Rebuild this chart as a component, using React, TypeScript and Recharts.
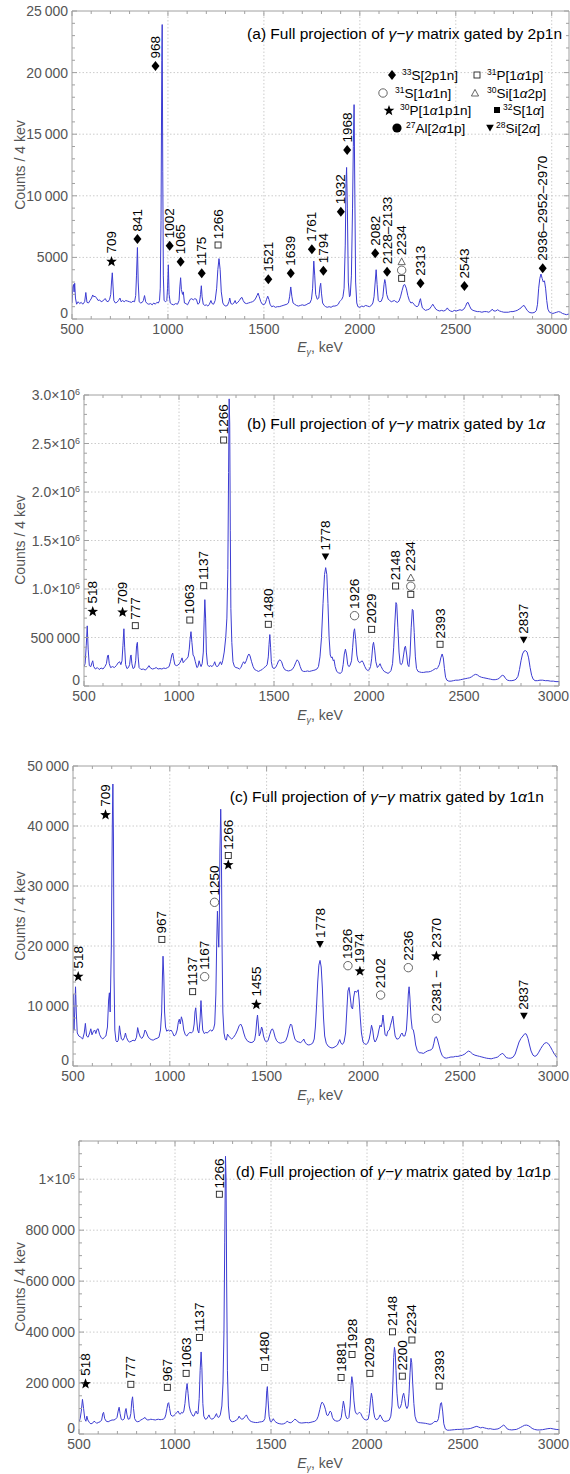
import React from 'react';
import { ComposedChart, Line, Scatter, XAxis, YAxis, ReferenceLine } from 'recharts';

const FONT = '"Liberation Sans", Arial, Helvetica, sans-serif';
const BLUE = '#3c3cd2';
const FRAME = '#a0a0a0';
const GRID = '#cccccc';
const TICK_TXT = '#555555';
const FS = 13.5; // peak label font size

// ---------- data ----------
const xMajor = [500, 1000, 1500, 2000, 2500, 3000];

const titles = [
  '(a) Full projection of γ−γ matrix gated by 2p1n',
  '(b) Full projection of γ−γ matrix gated by 1α',
  '(c) Full projection of γ−γ matrix gated by 1α1n',
  '(d) Full projection of γ−γ matrix gated by 1α1p',
];
const xTitle = ['E', 'γ', ', keV'];
const yTitle = 'Counts / 4 kev';

// legend of panel (a): symbol, mass number, rest of the label
const legendSym = ['◆', '□', '○', '△', '★', '■', '●', '▼'];
const legendIso = ['33', '31', '31', '30', '30', '32', '27', '28'];
const legendName = ['S[2p1n]', 'P[1α1p]', 'S[1α1n]', 'Si[1α2p]', 'P[1α1p1n]', 'S[1α]', 'Al[2α1p]', 'Si[2α]'];

const yMajorA = [0, 5000, 10000, 15000, 20000, 25000];
const yLabelsA = ['0', '5000', '10\u2009000', '15\u2009000', '20\u2009000', '25\u2009000'];
const yMajorB = [0, 500000, 1000000, 1500000, 2000000, 2500000, 3000000];
const yLabelsB = ['0', '500\u2009000', '1.0×10^6', '1.5×10^6', '2.0×10^6', '2.5×10^6', '3.0×10^6'];
const yMajorC = [0, 10000, 20000, 30000, 40000, 50000];
const yLabelsC = ['0', '10\u2009000', '20\u2009000', '30\u2009000', '40\u2009000', '50\u2009000'];
const yMajorD = [0, 200000, 400000, 600000, 800000, 1000000];
const yLabelsD = ['0', '200\u2009000', '400\u2009000', '600\u2009000', '800\u2009000', '1×10^6'];

// spectra: [E (keV), counts / 4 keV]
const spec2p1n = [
  [500,1300],[504,2600],[508,2800],[511,2200],[514,2900],[518,1700],[524,1200],[532,1400],[540,1250],[548,1350],[556,1200],[566,1400],[572,2150],[578,1350],[586,1300],[594,1500],[602,1700],[608,1950],[614,1800],[620,1850],[628,1700],[636,1500],[644,1550],[652,1400],[660,1450],[668,1600],[674,1650],[680,1450],[688,1400],[696,1600],[702,2000],[706,3000],[710,3750],[714,2600],[718,1500],[726,1300],[734,1350],[742,1500],[750,1700],[756,1400],[764,1500],[772,1400],[780,1500],[790,1450],[800,1400],[810,1350],[818,1450],[826,1400],[832,1900],[836,3500],[841,5800],[845,3000],[850,1400],[858,1300],[866,1350],[872,1500],[878,1900],[884,1400],[892,1250],[900,1200],[910,1250],[918,1150],[926,1300],[934,1200],[942,1350],[950,1300],[956,1500],[960,2500],[964,8000],[968,21000],[970,23900],[973,12000],[976,3500],[980,1500],[988,1400],[994,1500],[998,2500],[1002,4400],[1006,2000],[1012,1300],[1020,1200],[1030,1150],[1040,1250],[1050,1200],[1058,1500],[1062,2600],[1066,3350],[1070,2400],[1076,2000],[1080,2200],[1086,1300],[1094,1250],[1102,1150],[1110,1400],[1116,1600],[1124,1650],[1132,1550],[1140,1650],[1148,1600],[1156,1200],[1164,1300],[1170,2000],[1174,2700],[1178,1800],[1184,1200],[1192,1100],[1200,1150],[1208,1050],[1216,1200],[1224,1500],[1230,1250],[1238,1200],[1246,1500],[1254,2500],[1260,4000],[1266,4900],[1272,4000],[1278,2200],[1286,1300],[1294,1100],[1302,1050],[1310,1100],[1318,1400],[1322,1700],[1328,1250],[1336,1200],[1344,1300],[1350,1500],[1356,1250],[1364,1350],[1372,1500],[1380,1700],[1386,1750],[1392,1500],[1400,1300],[1410,1250],[1420,1300],[1430,1350],[1440,1400],[1450,1500],[1458,1700],[1464,1900],[1470,2100],[1476,1800],[1484,1400],[1492,1200],[1500,1150],[1508,1300],[1514,1600],[1520,1850],[1526,1600],[1532,1200],[1540,1000],[1550,1050],[1560,950],[1570,1000],[1580,1000],[1590,1050],[1600,1100],[1610,1150],[1620,1200],[1628,1300],[1634,1800],[1640,2600],[1646,1800],[1652,1300],[1660,1200],[1670,1100],[1680,1050],[1690,1100],[1700,1150],[1710,1100],[1720,1150],[1730,1250],[1740,1300],[1748,1600],[1754,2500],[1760,4700],[1765,3500],[1770,2000],[1778,1600],[1786,1700],[1792,2600],[1796,2900],[1800,2100],[1806,1300],[1814,1100],[1822,1000],[1830,950],[1840,1000],[1850,950],[1860,1050],[1870,1050],[1880,1100],[1888,1200],[1894,1400],[1900,1500],[1906,1600],[1912,1800],[1918,2500],[1924,6000],[1928,11000],[1931,12300],[1935,9000],[1940,3000],[1946,1800],[1950,1900],[1956,3500],[1962,9000],[1966,14000],[1970,17400],[1974,10000],[1978,3000],[1984,1300],[1990,1000],[2000,950],[2010,1050],[2020,1000],[2030,1100],[2040,1050],[2050,1000],[2060,1100],[2068,1300],[2074,1800],[2080,3000],[2085,4000],[2090,2800],[2096,1500],[2104,1400],[2112,1450],[2120,1800],[2126,2800],[2130,3200],[2134,2900],[2140,2000],[2148,1600],[2156,1500],[2164,1400],[2172,1450],[2180,1500],[2188,1400],[2196,1350],[2204,1450],[2212,1800],[2220,2300],[2228,2750],[2234,2800],[2242,2500],[2250,1900],[2258,1500],[2266,1300],[2274,1350],[2282,1200],[2290,1050],[2298,1000],[2306,1100],[2312,1500],[2316,1650],[2320,1300],[2326,900],[2334,800],[2342,700],[2352,750],[2362,800],[2372,1000],[2380,1200],[2388,1000],[2396,800],[2406,700],[2416,650],[2426,700],[2436,650],[2446,700],[2456,900],[2462,750],[2472,650],[2482,600],[2492,700],[2502,650],[2512,700],[2522,750],[2532,700],[2542,800],[2550,1000],[2558,1300],[2564,1350],[2572,1050],[2580,800],[2590,700],[2600,650],[2612,600],[2624,600],[2636,550],[2648,600],[2660,600],[2672,550],[2682,650],[2690,800],[2698,650],[2708,650],[2718,750],[2728,650],[2738,600],[2750,550],[2762,550],[2774,550],[2786,600],[2798,600],[2810,650],[2820,700],[2830,800],[2840,900],[2848,1050],[2856,1100],[2864,900],[2872,700],[2882,550],[2892,500],[2902,500],[2912,550],[2920,700],[2926,1200],[2932,2500],[2938,3300],[2944,3650],[2950,3300],[2956,3000],[2962,3100],[2968,2500],[2974,1500],[2980,800],[2988,550],[2996,500],[3006,450],[3016,500],[3026,550],[3036,600],[3046,550],[3056,450],[3066,400],[3076,350],[3088,400],
];

const spec1a = [
  [500,200000],[506,230000],[512,420000],[517,620000],[522,380000],[528,210000],[536,200000],[542,240000],[546,260000],[551,200000],[560,175000],[570,190000],[580,170000],[590,185000],[600,175000],[610,200000],[618,230000],[624,310000],[628,320000],[633,230000],[640,190000],[650,200000],[660,190000],[670,210000],[680,240000],[688,250000],[694,220000],[700,260000],[705,420000],[710,590000],[714,400000],[719,220000],[726,180000],[734,190000],[740,220000],[745,310000],[748,320000],[752,230000],[758,180000],[766,190000],[772,260000],[777,420000],[781,450000],[785,300000],[790,190000],[800,170000],[812,175000],[822,165000],[832,180000],[842,210000],[850,185000],[860,175000],[870,180000],[880,190000],[890,175000],[900,180000],[910,175000],[920,185000],[930,180000],[940,190000],[948,200000],[955,250000],[962,320000],[967,340000],[972,280000],[978,220000],[986,210000],[994,215000],[1002,230000],[1010,260000],[1016,290000],[1022,240000],[1030,260000],[1040,280000],[1048,300000],[1054,380000],[1058,480000],[1063,560000],[1068,450000],[1074,320000],[1080,300000],[1086,250000],[1094,190000],[1100,200000],[1106,260000],[1110,230000],[1116,200000],[1122,230000],[1128,350000],[1132,650000],[1136,890000],[1140,700000],[1144,350000],[1150,220000],[1158,200000],[1166,210000],[1174,200000],[1182,220000],[1188,250000],[1194,210000],[1200,200000],[1208,210000],[1214,240000],[1218,250000],[1224,220000],[1230,260000],[1238,350000],[1246,500000],[1252,700000],[1257,1200000],[1261,2200000],[1264,2960000],[1267,2700000],[1270,1600000],[1273,800000],[1278,450000],[1284,250000],[1292,200000],[1300,190000],[1310,185000],[1318,175000],[1326,190000],[1334,230000],[1340,250000],[1346,230000],[1354,260000],[1362,310000],[1368,330000],[1374,310000],[1382,250000],[1390,200000],[1398,170000],[1408,160000],[1418,150000],[1428,160000],[1438,170000],[1448,190000],[1456,200000],[1464,220000],[1470,300000],[1474,430000],[1478,530000],[1482,400000],[1486,250000],[1492,190000],[1500,180000],[1508,190000],[1516,220000],[1524,260000],[1532,270000],[1540,250000],[1548,200000],[1556,170000],[1566,160000],[1576,155000],[1586,160000],[1596,170000],[1606,200000],[1614,240000],[1622,270000],[1630,250000],[1638,200000],[1646,160000],[1656,150000],[1666,150000],[1676,155000],[1686,150000],[1696,155000],[1706,160000],[1716,165000],[1726,175000],[1734,200000],[1742,300000],[1750,500000],[1758,850000],[1766,1150000],[1772,1220000],[1778,1150000],[1784,850000],[1790,500000],[1796,320000],[1802,290000],[1806,300000],[1812,260000],[1816,270000],[1822,200000],[1830,150000],[1840,135000],[1850,130000],[1858,150000],[1864,220000],[1870,330000],[1876,380000],[1882,320000],[1888,220000],[1894,200000],[1900,210000],[1908,260000],[1914,400000],[1920,560000],[1924,590000],[1930,480000],[1936,320000],[1942,260000],[1950,240000],[1958,250000],[1964,260000],[1970,240000],[1978,200000],[1986,170000],[1994,160000],[2002,170000],[2008,200000],[2014,280000],[2020,420000],[2024,450000],[2030,370000],[2036,250000],[2044,190000],[2052,210000],[2058,230000],[2064,200000],[2072,170000],[2080,150000],[2090,140000],[2100,130000],[2108,140000],[2116,160000],[2124,230000],[2130,400000],[2136,650000],[2142,860000],[2146,840000],[2152,600000],[2158,350000],[2164,230000],[2170,220000],[2176,240000],[2182,320000],[2188,400000],[2192,410000],[2198,330000],[2204,220000],[2210,200000],[2216,320000],[2222,600000],[2228,790000],[2232,780000],[2238,550000],[2244,300000],[2250,180000],[2258,150000],[2266,145000],[2276,140000],[2288,140000],[2300,145000],[2312,145000],[2324,150000],[2334,160000],[2342,170000],[2350,180000],[2356,175000],[2362,190000],[2370,220000],[2378,290000],[2385,330000],[2391,290000],[2397,180000],[2403,90000],[2410,60000],[2420,50000],[2432,50000],[2444,55000],[2456,60000],[2470,60000],[2482,65000],[2494,70000],[2506,75000],[2518,80000],[2530,85000],[2540,95000],[2550,110000],[2560,120000],[2570,115000],[2580,100000],[2592,90000],[2604,85000],[2616,80000],[2628,75000],[2640,70000],[2652,65000],[2664,65000],[2676,70000],[2686,80000],[2694,100000],[2702,110000],[2710,105000],[2718,80000],[2728,60000],[2740,55000],[2752,55000],[2764,60000],[2774,70000],[2784,100000],[2792,170000],[2800,260000],[2808,330000],[2816,360000],[2824,365000],[2832,350000],[2840,290000],[2848,190000],[2856,110000],[2864,70000],[2874,55000],[2886,55000],[2900,60000],[2914,60000],[2928,55000],[2942,55000],[2956,50000],[2970,50000],[2984,45000],[3000,45000],
];

const spec1a1n = [
  [500,5500],[502,12000],[505,6000],[509,9000],[513,13200],[517,9000],[522,5500],[530,5000],[540,4800],[550,4500],[558,5500],[564,7100],[570,5000],[578,4800],[586,5500],[592,6200],[598,5200],[606,5800],[612,6000],[618,5400],[624,6100],[630,6200],[638,5200],[646,4700],[654,4500],[662,4800],[670,5000],[678,6500],[684,11000],[688,12200],[692,9000],[698,20000],[703,40000],[706,47000],[709,38000],[712,15000],[716,6000],[722,4200],[728,4000],[734,4300],[740,6700],[745,5500],[750,4500],[758,4300],[766,4800],[771,5500],[776,4800],[784,4200],[792,4000],[800,4100],[810,4300],[820,4200],[828,4800],[834,6400],[840,5500],[848,4800],[856,4600],[864,5000],[872,6000],[878,5700],[886,5000],[894,4600],[904,4400],[914,4300],[924,4500],[934,4600],[944,4800],[952,6000],[958,9000],[962,15000],[965,18300],[969,15000],[973,9000],[978,6500],[984,5800],[992,6000],[1000,5800],[1006,6000],[1014,5600],[1022,5000],[1030,5200],[1038,6000],[1044,7300],[1049,7800],[1054,7000],[1060,8200],[1066,7500],[1072,6000],[1080,5200],[1088,5000],[1096,5400],[1104,5600],[1112,5500],[1120,5800],[1126,7000],[1130,9000],[1134,9700],[1138,8000],[1144,6000],[1150,5500],[1156,7500],[1161,10900],[1165,8500],[1170,6000],[1178,5400],[1186,5600],[1194,5500],[1202,5800],[1210,6000],[1218,5800],[1226,6200],[1232,7000],[1238,12000],[1242,20000],[1246,25800],[1250,22000],[1253,19800],[1256,25000],[1259,36000],[1263,42800],[1266,38000],[1270,20000],[1274,9000],[1280,5500],[1286,4500],[1292,4300],[1298,5300],[1304,5000],[1312,4700],[1320,4500],[1330,4800],[1340,5300],[1350,6000],[1358,6700],[1366,7000],[1374,6500],[1382,5500],[1390,4700],[1400,4200],[1410,4000],[1420,3900],[1430,4000],[1438,4300],[1444,5500],[1449,7500],[1453,8500],[1457,7000],[1462,5000],[1468,5500],[1474,6500],[1478,6200],[1484,5000],[1492,4200],[1500,4000],[1508,4300],[1516,5200],[1524,6000],[1530,6200],[1536,5800],[1544,4800],[1552,4200],[1562,3900],[1572,3800],[1582,3900],[1592,4000],[1600,4300],[1608,5000],[1616,6200],[1624,7000],[1630,6800],[1638,5500],[1646,4500],[1656,4100],[1666,4000],[1676,3900],[1686,4200],[1692,4500],[1698,4000],[1708,3600],[1718,3500],[1728,3600],[1738,3800],[1746,4500],[1752,6500],[1758,10000],[1764,14000],[1770,16800],[1776,17600],[1782,16500],[1788,13000],[1794,8000],[1800,5000],[1808,3800],[1818,3300],[1828,3100],[1838,3000],[1848,3100],[1858,3300],[1866,3500],[1872,4000],[1878,4400],[1884,3800],[1892,3600],[1900,4000],[1908,5500],[1914,9000],[1920,12500],[1926,13100],[1932,11500],[1938,9800],[1944,9500],[1950,11500],[1956,12500],[1962,12300],[1968,12400],[1973,12700],[1978,11000],[1984,8000],[1990,5500],[1998,4000],[2006,3700],[2014,3600],[2022,3800],[2030,4500],[2036,5500],[2042,6800],[2048,6000],[2054,4500],[2060,4000],[2066,4300],[2074,5000],[2080,6000],[2086,6800],[2092,6500],[2097,7200],[2101,8500],[2106,7000],[2112,5200],[2120,5000],[2126,5800],[2134,6000],[2140,6800],[2146,7500],[2152,8300],[2158,6500],[2164,5000],[2172,4500],[2180,4500],[2188,4800],[2194,5300],[2200,5500],[2206,5000],[2214,5000],[2222,6000],[2228,9000],[2232,12000],[2236,13200],[2240,11500],[2246,8000],[2252,6200],[2258,6000],[2264,5000],[2270,3500],[2278,2600],[2288,2200],[2298,2200],[2310,2100],[2320,2300],[2330,2500],[2340,2600],[2350,2700],[2358,3000],[2364,3800],[2370,4700],[2376,4900],[2382,4500],[2390,3500],[2398,2500],[2406,1800],[2416,1400],[2428,1300],[2440,1400],[2452,1500],[2464,1500],[2476,1600],[2488,1600],[2500,1700],[2512,1800],[2524,2000],[2534,2300],[2544,2500],[2554,2300],[2564,2000],[2576,1800],[2588,1700],[2600,1600],[2612,1500],[2624,1400],[2636,1300],[2648,1250],[2660,1200],[2672,1300],[2684,1400],[2694,1500],[2704,1800],[2712,2000],[2720,2100],[2728,1800],[2738,1400],[2750,1300],[2762,1300],[2774,1500],[2784,2000],[2794,3000],[2804,4000],[2814,4600],[2824,5000],[2834,5400],[2842,5300],[2850,4600],[2858,3500],[2866,2500],[2876,1800],[2886,1600],[2896,1800],[2906,2300],[2916,2900],[2926,3400],[2936,3800],[2946,3900],[2956,3700],[2966,3200],[2976,2600],[2986,2000],[3000,1400],
];

const spec1a1p = [
  [500,48000],[506,60000],[512,90000],[518,136000],[524,100000],[530,60000],[536,50000],[541,70000],[546,55000],[554,45000],[562,40000],[570,42000],[578,50000],[584,48000],[592,42000],[600,45000],[610,48000],[618,55000],[624,80000],[628,85000],[634,60000],[642,50000],[652,48000],[662,52000],[672,55000],[682,55000],[690,58000],[698,65000],[704,90000],[709,105000],[714,80000],[720,58000],[728,55000],[736,60000],[741,90000],[745,100000],[750,75000],[756,58000],[764,60000],[770,80000],[775,130000],[779,146000],[784,100000],[790,60000],[798,50000],[806,48000],[814,50000],[822,55000],[830,58000],[838,62000],[844,65000],[850,58000],[858,55000],[866,56000],[874,58000],[882,57000],[890,56000],[898,55000],[906,57000],[914,58000],[922,56000],[930,57000],[938,58000],[946,62000],[952,75000],[958,100000],[963,120000],[967,123000],[972,100000],[978,75000],[986,70000],[994,72000],[1002,78000],[1010,85000],[1016,90000],[1022,80000],[1028,78000],[1034,85000],[1040,82000],[1046,90000],[1052,120000],[1058,170000],[1063,198000],[1068,160000],[1074,110000],[1080,90000],[1086,80000],[1094,70000],[1100,72000],[1106,85000],[1110,90000],[1115,80000],[1120,80000],[1126,140000],[1131,250000],[1136,322000],[1140,260000],[1145,120000],[1150,70000],[1158,58000],[1166,60000],[1172,68000],[1177,75000],[1182,65000],[1190,58000],[1198,60000],[1206,65000],[1212,75000],[1216,80000],[1221,68000],[1228,65000],[1236,75000],[1244,110000],[1250,200000],[1255,400000],[1259,750000],[1263,1090000],[1266,1000000],[1269,600000],[1273,250000],[1278,110000],[1284,60000],[1292,50000],[1300,48000],[1310,50000],[1320,55000],[1328,60000],[1334,70000],[1340,62000],[1348,58000],[1356,60000],[1364,68000],[1372,75000],[1380,62000],[1390,52000],[1400,48000],[1410,46000],[1420,45000],[1430,45000],[1440,47000],[1450,48000],[1460,50000],[1468,60000],[1474,110000],[1478,170000],[1481,186000],[1485,130000],[1490,70000],[1496,50000],[1502,48000],[1508,55000],[1512,60000],[1518,52000],[1526,46000],[1536,42000],[1546,40000],[1556,39000],[1566,40000],[1576,44000],[1584,50000],[1592,46000],[1600,44000],[1608,46000],[1616,52000],[1624,58000],[1632,55000],[1640,48000],[1650,44000],[1660,43000],[1672,44000],[1684,45000],[1696,44000],[1708,46000],[1718,48000],[1728,50000],[1738,56000],[1746,70000],[1754,95000],[1760,115000],[1766,125000],[1772,120000],[1778,110000],[1784,95000],[1790,75000],[1796,72000],[1802,80000],[1808,90000],[1814,85000],[1820,65000],[1828,55000],[1836,52000],[1844,50000],[1852,52000],[1860,55000],[1866,65000],[1872,100000],[1877,129000],[1882,110000],[1888,75000],[1894,62000],[1900,60000],[1906,65000],[1912,110000],[1917,190000],[1921,225000],[1926,200000],[1932,130000],[1938,90000],[1944,80000],[1950,78000],[1956,82000],[1962,85000],[1968,80000],[1974,70000],[1982,60000],[1990,56000],[1998,55000],[2006,58000],[2012,80000],[2018,130000],[2023,160000],[2028,140000],[2034,90000],[2040,65000],[2048,56000],[2056,58000],[2062,65000],[2068,75000],[2074,68000],[2082,55000],[2090,50000],[2100,50000],[2108,52000],[2116,55000],[2124,70000],[2130,110000],[2135,200000],[2139,300000],[2143,340000],[2147,320000],[2151,250000],[2156,160000],[2162,110000],[2168,100000],[2174,105000],[2180,120000],[2186,150000],[2191,160000],[2196,140000],[2202,110000],[2208,100000],[2214,110000],[2219,160000],[2224,240000],[2229,297000],[2233,280000],[2238,200000],[2244,120000],[2250,70000],[2258,50000],[2268,45000],[2280,44000],[2292,43000],[2304,42000],[2316,40000],[2328,38000],[2338,40000],[2346,45000],[2354,50000],[2360,48000],[2366,50000],[2372,60000],[2378,90000],[2383,120000],[2388,123000],[2394,90000],[2400,40000],[2408,20000],[2418,15000],[2430,15000],[2442,16000],[2456,17000],[2470,18000],[2484,18000],[2498,19000],[2512,20000],[2526,20000],[2540,22000],[2552,25000],[2562,28000],[2572,30000],[2582,27000],[2592,24000],[2602,26000],[2612,24000],[2622,22000],[2632,20000],[2642,21000],[2652,19000],[2662,18000],[2672,19000],[2682,20000],[2692,24000],[2702,30000],[2712,35000],[2720,30000],[2730,20000],[2742,17000],[2754,16000],[2766,17000],[2778,18000],[2790,22000],[2800,26000],[2810,30000],[2820,34000],[2830,35000],[2840,33000],[2850,28000],[2860,22000],[2872,18000],[2886,16000],[2900,16000],[2914,17000],[2928,19000],[2942,21000],[2956,22000],[2970,20000],[2985,18000],[3000,17000],
];

// peak labels: position of the first marker (E, counts) and the label text
const peaks2p1n = [
  { e: 706, c: 4708, t: '★ 709' },
  { e: 841, c: 6494, t: '◆ 841' },
  { e: 935, c: 20535, t: '◆ 968' },
  { e: 1009, c: 5950, t: '◆ 1002' },
  { e: 1066, c: 4650, t: '◆ 1065' },
  { e: 1176, c: 3710, t: '◆ 1175' },
  { e: 1261, c: 6006, t: '□ 1266' },
  { e: 1523, c: 3220, t: '◆ 1521' },
  { e: 1640, c: 3710, t: '◆ 1639' },
  { e: 1750, c: 5655, t: '◆ 1761' },
  { e: 1810, c: 3925, t: '◆ 1794' },
  { e: 1901, c: 8710, t: '◆ 1932' },
  { e: 1934, c: 13720, t: '◆ 1968' },
  { e: 2080, c: 5330, t: '◆ 2082' },
  { e: 2142, c: 3840, t: '◆ 2128–2133' },
  { e: 2218, c: 3300, t: '□○△ 2234' },
  { e: 2316, c: 2895, t: '◆ 2313' },
  { e: 2545, c: 2680, t: '◆ 2543' },
  { e: 2953, c: 4115, t: '◆ 2936–2952–2970' },
];

const peaks1a = [
  { e: 546, c: 773000, t: '★ 518' },
  { e: 703, c: 766000, t: '★ 709' },
  { e: 770, c: 622000, t: '□ 777' },
  { e: 1057, c: 680000, t: '□ 1063' },
  { e: 1130, c: 1034000, t: '□ 1137' },
  { e: 1235, c: 2536000, t: '□ 1266' },
  { e: 1470, c: 636000, t: '□ 1480' },
  { e: 1771, c: 1333000, t: '▼ 1778' },
  { e: 1924, c: 725000, t: '○ 1926' },
  { e: 2014, c: 584000, t: '□ 2029' },
  { e: 2140, c: 1031000, t: '□ 2148' },
  { e: 2220, c: 945000, t: '□○△ 2234' },
  { e: 2374, c: 430000, t: '□ 2393' },
  { e: 2814, c: 474000, t: '▼ 2837' },
];

const peaks1a1n = [
  { e: 527, c: 15000, t: '★ 518' },
  { e: 668, c: 41950, t: '★ 709' },
  { e: 959, c: 21100, t: '□ 967' },
  { e: 1118, c: 12390, t: '□ 1137' },
  { e: 1180, c: 14890, t: '○ 1167' },
  { e: 1231, c: 27280, t: '○ 1250' },
  { e: 1302, c: 33620, t: '★□ 1266' },
  { e: 1447, c: 10330, t: '★ 1455' },
  { e: 1776, c: 20280, t: '▼ 1778' },
  { e: 1920, c: 16720, t: '○ 1926' },
  { e: 1982, c: 15890, t: '★ 1974' },
  { e: 2089, c: 11830, t: '○ 2102' },
  { e: 2232, c: 16390, t: '○ 2236' },
  { e: 2377, c: 7950, t: '○ 2381  −  ★ 2370' },
  { e: 2829, c: 8330, t: '▼ 2837' },
];

const peaks1a1p = [
  { e: 534, c: 198800, t: '★ 518' },
  { e: 770, c: 195000, t: '□ 777' },
  { e: 960, c: 183000, t: '□ 967' },
  { e: 1058, c: 238000, t: '□ 1063' },
  { e: 1127, c: 379000, t: '□ 1137' },
  { e: 1231, c: 941000, t: '□ 1266' },
  { e: 1467, c: 261000, t: '□ 1480' },
  { e: 1865, c: 222000, t: '□ 1881' },
  { e: 1922, c: 312000, t: '□ 1928' },
  { e: 2015, c: 238000, t: '□ 2029' },
  { e: 2133, c: 401000, t: '□ 2148' },
  { e: 2184, c: 227000, t: '□ 2200' },
  { e: 2234, c: 369000, t: '□ 2234' },
  { e: 2376, c: 188000, t: '□ 2393' },
];

// ---------- helpers ----------
const toPts = (a) => a.map(([e, c]) => ({ e, c }));
const range = (from, to, step) => {
  const out = [];
  for (let v = from; v <= to + 1e-6; v += step) out.push(v);
  return out;
};

const starPath = (x, y, r) => {
  let d = '';
  for (let k = 0; k < 10; k++) {
    const rr = k % 2 ? r * 0.42 : r;
    const a = -Math.PI / 2 + (k * Math.PI) / 5;
    d += (k ? 'L' : 'M') + (x + rr * Math.cos(a)).toFixed(2) + ',' + (y + rr * Math.sin(a)).toFixed(2);
  }
  return d + 'Z';
};

const HALF = { '◆': 5, '★': 5, '□': 3.3, '○': 4.3, '△': 3.8, '▼': 3.8, '■': 3.3, '●': 4.5 };

const Marker = ({ s, x, y }) => {
  switch (s) {
    case '◆':
      return <path d={`M${x},${y - 5}L${x + 4},${y}L${x},${y + 5}L${x - 4},${y}Z`} fill="#000" />;
    case '★':
      return <path d={starPath(x, y + 0.6, 5.6)} fill="#000" />;
    case '□':
      return <rect x={x - 3} y={y - 3} width={6} height={6} fill="#fff" stroke="#222" strokeWidth={0.9} />;
    case '■':
      return <rect x={x - 3} y={y - 3} width={6} height={6} fill="#000" />;
    case '○':
      return <circle cx={x} cy={y} r={4.2} fill="#fff" stroke="#555" strokeWidth={0.9} />;
    case '●':
      return <circle cx={x} cy={y} r={4.6} fill="#000" />;
    case '△':
      return <path d={`M${x},${y - 3.6}L${x + 3.6},${y + 3}L${x - 3.6},${y + 3}Z`} fill="#fff" stroke="#555" strokeWidth={0.9} />;
    case '▼':
      return <path d={`M${x - 3.8},${y - 3.2}L${x + 3.8},${y - 3.2}L${x},${y + 3.6}Z`} fill="#000" />;
    default:
      return null;
  }
};

const charW = (ch) => (ch === '−' ? 0.584 : ch === ' ' ? 0.278 : 0.556);

// peak label: markers stay upright, the numbers read bottom to top
const renderPeak = (props) => {
  const { cx, cy, payload } = props;
  if (cx == null || cy == null) return null;
  const parts = payload.t.split(/([◆□○△★■●▼])/).filter((p) => p !== '');
  const out = [];
  let u = cy;
  let started = false;
  parts.forEach((p, i) => {
    if (HALF[p]) {
      const c = started ? u - HALF[p] - 0.5 : cy;
      out.push(<Marker key={i} s={p} x={cx} y={c} />);
      u = c - HALF[p];
    } else {
      const lead = p.length - p.trimStart().length;
      const trail = p.length - p.trimEnd().length;
      const body = p.trim();
      const start = u - lead * 2.5;
      if (body) {
        out.push(
          <text
            key={i}
            x={cx}
            y={start}
            transform={`rotate(-90 ${cx} ${start})`}
            fontSize={FS}
            fontFamily={FONT}
            dominantBaseline="central"
            fill="#000"
          >
            {body}
          </text>
        );
      }
      const w = [...body].reduce((s, ch) => s + charW(ch), 0) * FS;
      u = start - w - trail * 2.5;
    }
    started = true;
  });
  return <g>{out}</g>;
};

const XTick = ({ x, y, payload, h }) => {
  const v = payload.value;
  const major = v % 500 === 0;
  const len = major ? 5 : 3;
  // keep the last label inside the picture
  const half = String(v).length * 0.556 * 7;
  const atEdge = x + half > 569;
  return (
    <g>
      <line x1={x} y1={y} x2={x} y2={y - len} stroke={FRAME} />
      <line x1={x} y1={y - h} x2={x} y2={y - h + len} stroke={FRAME} />
      {major && (
        <text
          x={atEdge ? 569 : x}
          y={y + 15}
          textAnchor={atEdge ? 'end' : 'middle'}
          fill={TICK_TXT}
          fontSize={14}
          fontFamily={FONT}
        >
          {v}
        </text>
      )}
    </g>
  );
};

const YTick = ({ x, y, payload, w, majors, labels }) => {
  const i = majors.indexOf(payload.value);
  const len = i >= 0 ? 5 : 3;
  const lab = i >= 0 ? labels[i] : null;
  const [main, sup] = lab ? lab.split('^') : [null, null];
  return (
    <g>
      <line x1={x} y1={y} x2={x + len} y2={y} stroke={FRAME} />
      <line x1={x + w} y1={y} x2={x + w - len} y2={y} stroke={FRAME} />
      {lab && (
        <text x={x - 4} y={y} dy={payload.value === 0 ? '-0.05em' : '0.36em'} textAnchor="end" fill={TICK_TXT} fontSize={14} fontFamily={FONT}>
          {main}
          {sup && (
            <tspan dy="-0.55em" fontSize={9}>
              {sup}
            </tspan>
          )}
        </text>
      )}
    </g>
  );
};

const panels = [
  { top: 0, height: 360, left: 72, right: 1, mtop: 11, xh: 41, xMax: 3090, yMax: 25000, yMinor: 1000, yMajor: yMajorA, yLabels: yLabelsA, spec: spec2p1n, peaks: peaks2p1n },
  { top: 370, height: 360, left: 84, right: 11, mtop: 25, xh: 44, xMax: 3000, yMax: 3000000, yMinor: 100000, yMajor: yMajorB, yLabels: yLabelsB, spec: spec1a, peaks: peaks1a },
  { top: 740, height: 365, left: 73, right: 13, mtop: 26, xh: 39, xMax: 3000, yMax: 50000, yMinor: 2000, yMajor: yMajorC, yLabels: yLabelsC, spec: spec1a1n, peaks: peaks1a1n },
  { top: 1110, height: 364, left: 79, right: 11, mtop: 31, xh: 40, xMax: 3000, yMax: 1150000, yMinor: 50000, yMajor: yMajorD, yLabels: yLabelsD, spec: spec1a1p, peaks: peaks1a1p },
];

function Panel({ cfg }) {
  const plotW = 570 - cfg.left - cfg.right;
  const plotH = cfg.height - cfg.mtop - cfg.xh;
  const xTicks = range(500, Math.min(3000, cfg.xMax), 100);
  const yTicks = range(0, cfg.yMax, cfg.yMinor);
  const pts = toPts(cfg.spec);
  return (
    <div style={{ position: 'absolute', left: 0, top: cfg.top }}>
      <ComposedChart width={570} height={cfg.height} margin={{ top: cfg.mtop, right: cfg.right, bottom: 0, left: 0 }}>
        <XAxis
          dataKey="e"
          type="number"
          domain={[500, cfg.xMax]}
          allowDataOverflow
          ticks={xTicks}
          interval={0}
          height={cfg.xh}
          tickLine={false}
          tickSize={0}
          tickMargin={0}
          axisLine={{ stroke: FRAME }}
          tick={(p) => <XTick {...p} h={plotH} />}
        />
        <YAxis
          dataKey="c"
          type="number"
          domain={[0, cfg.yMax]}
          allowDataOverflow
          ticks={yTicks}
          interval={0}
          width={cfg.left}
          tickLine={false}
          tickSize={0}
          tickMargin={0}
          axisLine={{ stroke: FRAME }}
          tick={(p) => <YTick {...p} w={plotW} majors={cfg.yMajor} labels={cfg.yLabels} />}
        />
        {xMajor
          .filter((v) => v > 500 && v < cfg.xMax)
          .map((v) => (
            <ReferenceLine key={'gx' + v} x={v} stroke={GRID} strokeDasharray="1.5 2" />
          ))}
        {cfg.yMajor
          .filter((v) => v > 0 && v < cfg.yMax)
          .map((v) => (
            <ReferenceLine key={'gy' + v} y={v} stroke={GRID} strokeDasharray="1.5 2" />
          ))}
        <ReferenceLine x={cfg.xMax} stroke={FRAME} />
        <ReferenceLine y={cfg.yMax} stroke={FRAME} />
        <Line data={pts} dataKey="c" type="linear" stroke={BLUE} strokeWidth={1} dot={false} activeDot={false} isAnimationActive={false} />
        <Scatter data={cfg.peaks} dataKey="c" shape={renderPeak} isAnimationActive={false} />
      </ComposedChart>
    </div>
  );
}

const italicGreek = (s) =>
  s.split(/([γα])/).map((p, i) =>
    p === 'γ' || p === 'α' ? (
      <tspan key={i} fontStyle="italic">
        {p}
      </tspan>
    ) : (
      p
    )
  );

// text placed around the four plots (titles are right-aligned)
const titlePos = [
  [562, 39],
  [545, 429],
  [544, 802],
  [551, 1177],
];
const xTitleY = [352, 720, 1100, 1468];
const yTitleY = [165, 540, 916, 1287];
const legendPos = [
  [392, 75, 402], [477, 75, 487],
  [383, 93, 395], [475, 93, 487],
  [389, 110, 400], [497, 110, 503],
  [397, 128, 406], [490, 128, 496],
];

function Overlay() {
  return (
    <svg width={570} height={1474} style={{ position: 'absolute', left: 0, top: 0, pointerEvents: 'none' }}>
      {titles.map((t, i) => (
        <text key={'t' + i} x={titlePos[i][0]} y={titlePos[i][1]} textAnchor="end" fontSize={15.5} fontFamily={FONT} fill="#000">
          {italicGreek(t)}
        </text>
      ))}
      {xTitleY.map((y, i) => (
        <text key={'xt' + i} x={320} y={y} textAnchor="middle" fontSize={14} fontFamily={FONT} fill={TICK_TXT}>
          <tspan fontStyle="italic">{xTitle[0]}</tspan>
          <tspan fontStyle="italic" fontSize={9} dy={3}>
            {xTitle[1]}
          </tspan>
          <tspan dy={-3}>{xTitle[2]}</tspan>
        </text>
      ))}
      {yTitleY.map((y, i) => (
        <text
          key={'yt' + i}
          x={20}
          y={y}
          transform={`rotate(-90 20 ${y})`}
          textAnchor="middle"
          dominantBaseline="central"
          fontSize={14}
          fontFamily={FONT}
          fill={TICK_TXT}
        >
          {yTitle}
        </text>
      ))}
      {legendSym.map((s, i) => {
        const [mx, my, tx] = legendPos[i];
        return (
          <g key={'lg' + i}>
            <Marker s={s} x={mx} y={my} />
            <text x={tx} y={my + 4.5} fontSize={13.5} fontFamily={FONT} fill="#000">
              <tspan fontSize={8.5} dy={-5}>
                {legendIso[i]}
              </tspan>
              <tspan dy={5}>{italicGreek(legendName[i])}</tspan>
            </text>
          </g>
        );
      })}
    </svg>
  );
}

export default function App() {
  return (
    <div style={{ position: 'absolute', left: 0, top: 0, width: 570, height: 1474, background: '#fff', fontFamily: FONT }}>
      {panels.map((cfg, i) => (
        <Panel key={i} cfg={cfg} />
      ))}
      <Overlay />
    </div>
  );
}
